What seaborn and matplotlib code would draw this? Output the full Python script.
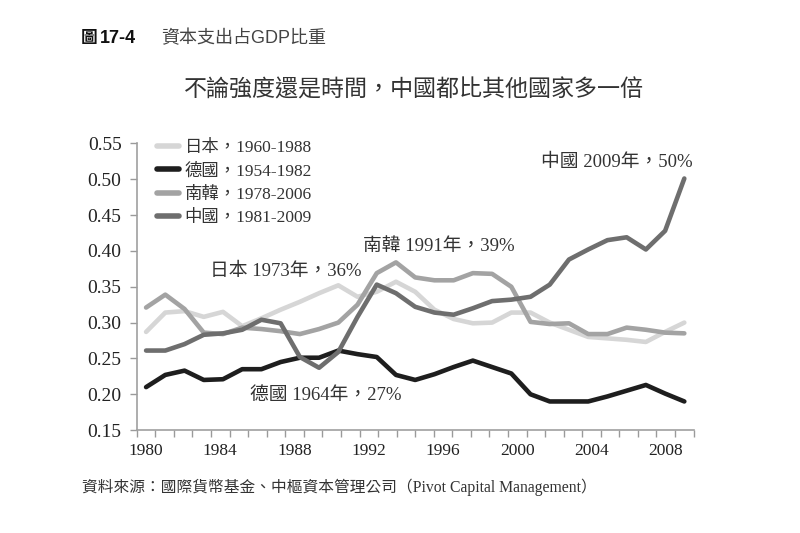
import matplotlib
matplotlib.use("Agg")
import matplotlib.pyplot as plt
import numpy as np
import pandas as pd
import seaborn as sns

# legend labels (each series is 29 years, plotted on a common 1980-2009 axis)
labels = ["日本，1960-1988", "德國，1954-1982", "南韓，1978-2006", "中國，1981-2009"]

japan = [0.287, 0.314, 0.316, 0.308, 0.315, 0.295, 0.306, 0.318, 0.329, 0.341,
         0.352, 0.336, 0.343, 0.357, 0.343, 0.318, 0.305, 0.299, 0.300, 0.314,
         0.314, 0.300, 0.290, 0.280, 0.278, 0.276, 0.273, 0.287, 0.300]
germany = [0.210, 0.227, 0.233, 0.220, 0.221, 0.235, 0.235, 0.245, 0.251, 0.251,
           0.261, 0.256, 0.252, 0.227, 0.220, 0.228, 0.238, 0.247, 0.238, 0.229,
           0.200, 0.190, 0.190, 0.190, 0.197, 0.205, 0.213, 0.201, 0.190]
korea = [0.321, 0.339, 0.319, 0.286, 0.284, 0.293, 0.291, 0.288, 0.284, 0.291,
         0.300, 0.325, 0.369, 0.384, 0.363, 0.359, 0.359, 0.369, 0.368, 0.350,
         0.301, 0.298, 0.299, 0.284, 0.284, 0.293, 0.290, 0.286, 0.285]
china = [0.261, 0.261, 0.270, 0.283, 0.285, 0.290, 0.304, 0.299, 0.252, 0.237,
         0.259, 0.308, 0.353, 0.341, 0.322, 0.314, 0.311, 0.320, 0.330, 0.332,
         0.336, 0.353, 0.388, 0.402, 0.415, 0.419, 0.402, 0.428, 0.501]

year_labels = [1980, 1984, 1988, 1992, 1996, 2000, 2004, 2008]
y_ticks = [0.15, 0.20, 0.25, 0.30, 0.35, 0.40, 0.45, 0.50, 0.55]

colors = ["#d6d6d6", "#1e1e1e", "#a3a3a3", "#6e6e6e"]

annotations = [
    ("中國 2009年，50%", 2001.3, 0.523),
    ("南韓 1991年，39%", 1991.7, 0.406),
    ("日本 1973年，36%", 1983.45, 0.371),
    ("德國 1964年，27%", 1985.6, 0.199),
]

sns.set_theme(style="white")
SERIF = ["Liberation Serif", "Noto Sans CJK TC"]
SANS = ["Liberation Sans", "Noto Sans CJK TC"]
plt.rcParams["font.family"] = SERIF

n = len(china)
xpos = np.linspace(1980, 2009, n)
frames = []
for lab, vals in zip(labels, [japan, germany, korea, china]):
    frames.append(pd.DataFrame({"x": xpos, "value": vals, "series": lab}))
df = pd.concat(frames, ignore_index=True)

fig = plt.figure(figsize=(8, 5.33), dpi=100)
ax = fig.add_axes([0.171, 0.193, 0.696, 0.538])

sns.lineplot(data=df, x="x", y="value", hue="series", hue_order=labels,
             palette=dict(zip(labels, colors)), linewidth=3.3, sort=False,
             ax=ax)

ax.set_xlim(1979.5, 2009.5)
ax.set_ylim(0.15, 0.55)
ax.set_xlabel("")
ax.set_ylabel("")

ax.set_xticks(year_labels)
ax.set_xticklabels([str(y) for y in year_labels])
ax.set_xticks(np.arange(1979.5, 2010, 1), minor=True)
ax.tick_params(axis="x", which="major", length=0, pad=9, labelsize=12.5,
               labelcolor="#222222")
ax.tick_params(axis="x", which="minor", length=5, width=1, color="#9a9a9a",
               direction="out", bottom=True)
ax.set_yticks(y_ticks)
ax.set_yticklabels([f"{v:.2f}" for v in y_ticks])
ax.tick_params(axis="y", length=5, width=1, color="#9a9a9a", direction="out",
               pad=6, labelsize=14, labelcolor="#222222", left=True)

for side in ["top", "right"]:
    ax.spines[side].set_visible(False)
for side in ["left", "bottom"]:
    ax.spines[side].set_color("#a0a0a0")
    ax.spines[side].set_linewidth(1.2)

handles, labs = ax.get_legend_handles_labels()
for h in handles:
    h.set_linewidth(4)
leg = ax.legend(handles, labs, loc="upper left", bbox_to_anchor=(0.196, 0.738),
                bbox_transform=fig.transFigure, frameon=False, borderpad=0,
                borderaxespad=0, handlelength=1.25, handletextpad=0.35,
                labelspacing=0.42, prop={"family": SERIF, "size": 12.5})
for t in leg.get_texts():
    t.set_color("#333333")

for text, x, y in annotations:
    ax.text(x, y, text, ha="left", va="center", fontsize=13.5,
            color="#333333", family=SERIF)

# header, subtitle and source
fig.text(0.101, 0.928, "圖", fontsize=12, weight="bold", color="#111111",
         family=SANS, va="center")
fig.text(0.1245, 0.928, "17-4", fontsize=13, weight="bold", color="#111111",
         family=SANS, va="center")
fig.text(0.202, 0.928, "資本支出占GDP比重", fontsize=13, color="#444444",
         family=SANS, va="center")
fig.text(0.518, 0.831, "不論強度還是時間，中國都比其他國家多一倍", fontsize=16.6,
         color="#333333", family=SANS, weight="light", ha="center", va="center")
fig.text(0.102, 0.086,
         "資料來源：國際貨幣基金、中樞資本管理公司（Pivot Capital Management）",
         fontsize=11.3, color="#333333", family=SERIF, va="center")

fig.savefig("out.png", dpi=100, facecolor="white")
